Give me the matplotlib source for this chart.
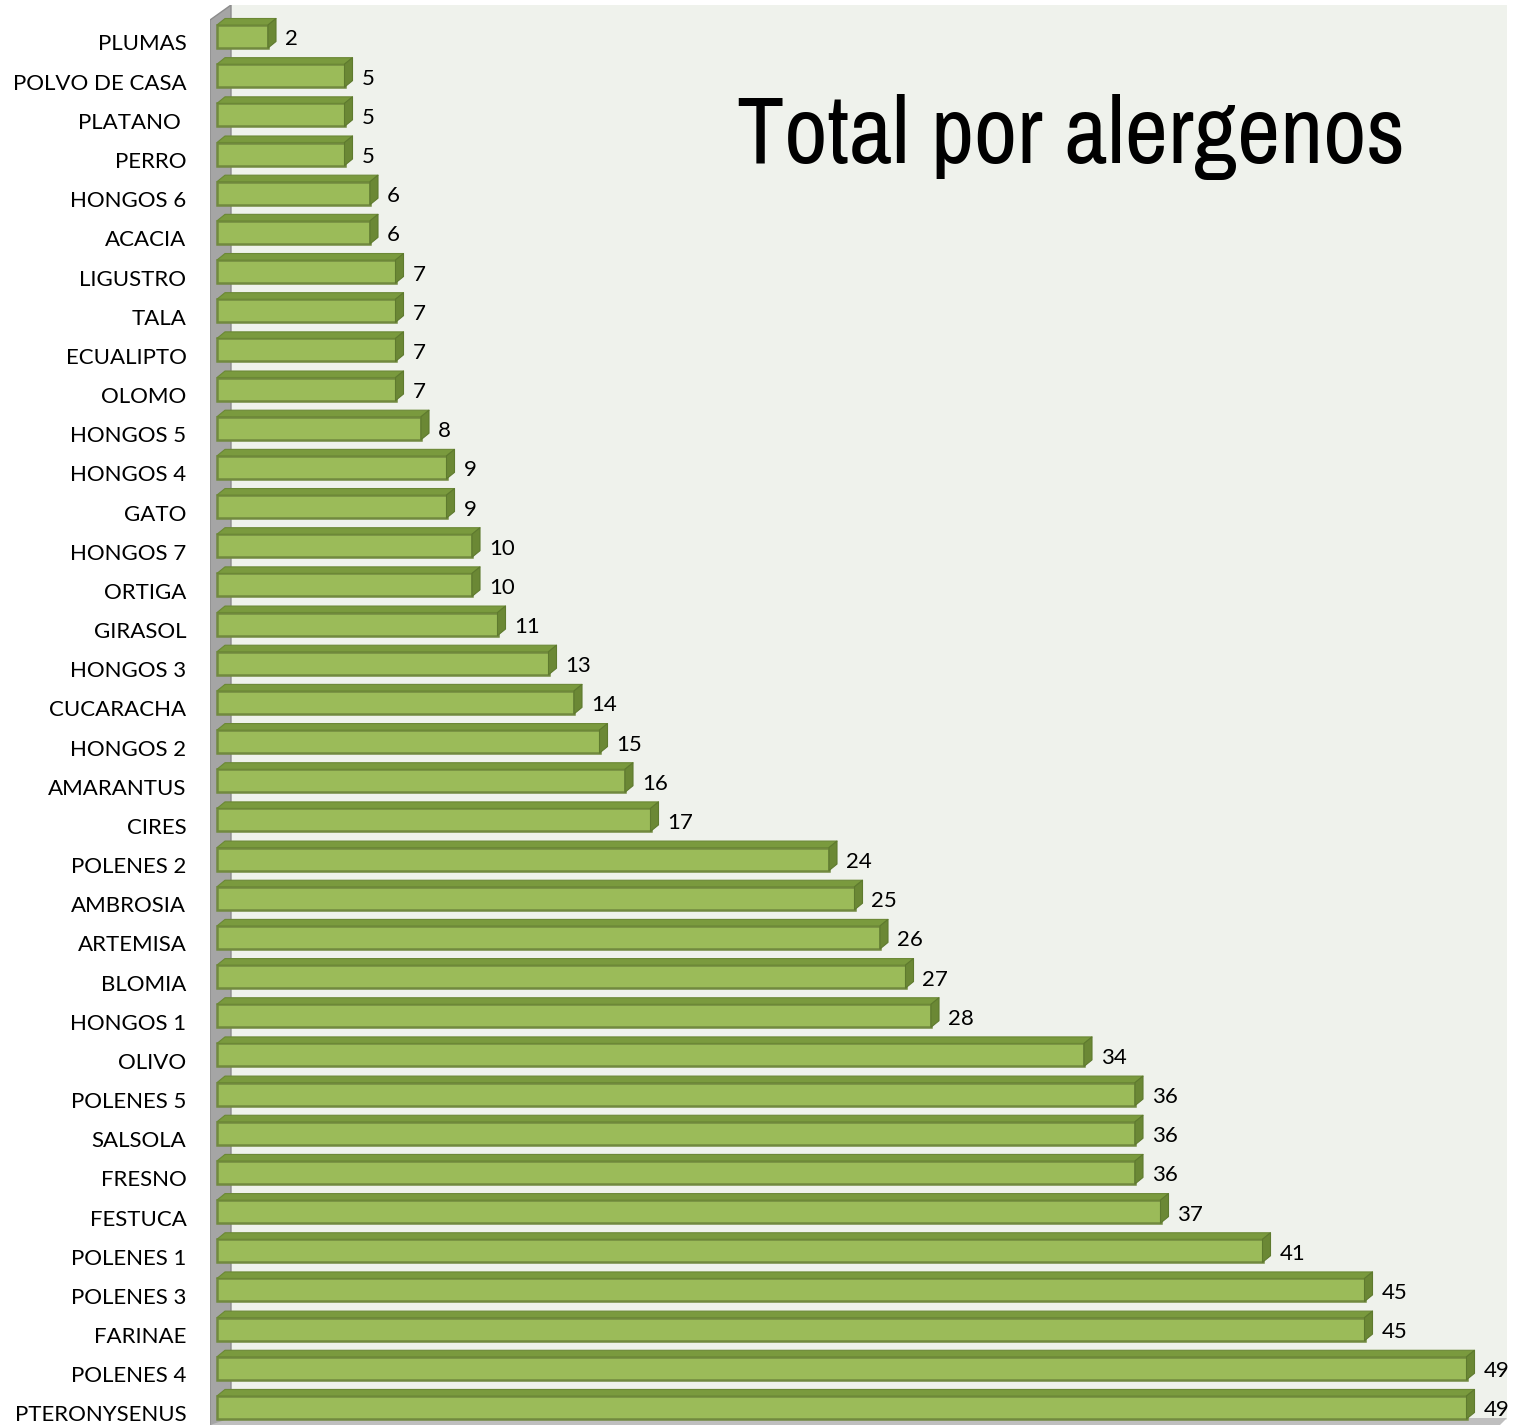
import matplotlib
matplotlib.use('Agg')
import matplotlib.pyplot as plt
import numpy as np
from matplotlib import font_manager
from matplotlib.patches import Polygon, Rectangle
from matplotlib.collections import PolyCollection
from matplotlib.transforms import ScaledTranslation

categories = ['PLUMAS', 'POLVO DE CASA', 'PLATANO ', 'PERRO', 'HONGOS 6', 'ACACIA',
              'LIGUSTRO', 'TALA', 'ECUALIPTO', 'OLOMO', 'HONGOS 5', 'HONGOS 4',
              'GATO', 'HONGOS 7', 'ORTIGA', 'GIRASOL', 'HONGOS 3', 'CUCARACHA',
              'HONGOS 2', 'AMARANTUS', 'CIRES', 'POLENES 2', 'AMBROSIA', 'ARTEMISA',
              'BLOMIA', 'HONGOS 1', 'OLIVO', 'POLENES 5', 'SALSOLA', 'FRESNO',
              'FESTUCA', 'POLENES 1', 'POLENES 3', 'FARINAE', 'POLENES 4', 'PTERONYSENUS']
values = [2, 5, 5, 5, 6, 6, 7, 7, 7, 7, 8, 9, 9, 10, 10, 11, 13, 14, 15, 16, 17,
          24, 25, 26, 27, 28, 34, 36, 36, 36, 37, 41, 45, 45, 49, 49]
title = 'Total por alergenos'

W, H = 1522, 1425
DPI = 100
PX_PER_UNIT = 25.5      # pixels per value unit
X0_PX = 217             # pixel where value 0 sits
ROW0_PX = 36.5          # centre of first bar front
PITCH = 39.17           # row pitch in px

front = '#9BBB59'
front_edge = '#71893F'
top_col = '#7A9A3E'
side_col = '#6B8835'
wall = '#EFF2EC'
gray = '#A5A5A5'

fig = plt.figure(figsize=(W / DPI, H / DPI), dpi=DPI)
fig.patch.set_facecolor('white')

ax_left, ax_right = 210, 1507
ax_top, ax_bot = 5, 1425
ax = fig.add_axes([ax_left / W, 1 - ax_bot / H, (ax_right - ax_left) / W, (ax_bot - ax_top) / H])
ax.set_facecolor('none')

def px_x(p):
    return (p - X0_PX) / PX_PER_UNIT

def px_y(p):
    return (p - ROW0_PX) / PITCH

ax.set_xlim(px_x(ax_left), px_x(ax_right))
ax.set_ylim(px_y(ax_bot), px_y(ax_top))

# back wall, side wall, floor
ax.add_patch(Rectangle((px_x(231), px_y(5)), px_x(1507) - px_x(231), px_y(1420) - px_y(5),
                       facecolor=wall, edgecolor='none', zorder=0))
ax.add_patch(Polygon([(px_x(210), px_y(20)), (px_x(231), px_y(5)), (px_x(231), px_y(1425)),
                      (px_x(210), px_y(1425))], closed=True, facecolor=gray,
                     edgecolor='#8C8C8C', lw=1, zorder=1))
ax.add_patch(Polygon([(px_x(231), px_y(1418)), (px_x(1507), px_y(1418)), (px_x(1500), px_y(1425)),
                      (px_x(210), px_y(1425))], closed=True, facecolor='#BFBFBF',
                     edgecolor='none', zorder=1))

rows = np.arange(len(categories))
h = 23 / PITCH
dx = 8 / PX_PER_UNIT
dy = 6.5 / PITCH

ax.barh(rows, values, height=h, color=front, edgecolor=front_edge, linewidth=1.8, zorder=3)

tops, sides = [], []
for r, v in zip(rows, values):
    yt = r - h / 2
    yb = r + h / 2
    tops.append([(0, yt), (v, yt), (v + dx, yt - dy), (dx, yt - dy)])
    sides.append([(v, yt), (v + dx, yt - dy), (v + dx, yb - dy), (v, yb)])
ax.add_collection(PolyCollection(tops, facecolors=top_col, edgecolors=side_col, linewidths=0.8, zorder=3))
ax.add_collection(PolyCollection(sides, facecolors=side_col, edgecolors='#5E7A2E', linewidths=0.8, zorder=3))

lab_font = ['Lato', 'DejaVu Sans']
for r, v in zip(rows, values):
    ax.text(v + dx + 9 / PX_PER_UNIT, r + 3 / PITCH, str(v), fontsize=16, family=lab_font,
            va='center', ha='left', zorder=4)

ax.set_yticks(rows)
ax.set_yticklabels(categories, fontsize=16, family=lab_font)
ax.tick_params(axis='y', length=0, pad=17)
ax.set_xticks([])
for lbl in ax.get_yticklabels():
    lbl.set_transform(lbl.get_transform() + ScaledTranslation(0, -6 / DPI, fig.dpi_scale_trans))
for s in ax.spines.values():
    s.set_visible(False)

# title font: a condensed face if one exists, else a plain sans fitted to width
names = sorted({f.name for f in font_manager.fontManager.ttflist})
narrow = [n for n in names if 'Condensed' in n or 'Narrow' in n]
title_family = narrow[0] if narrow else 'Roboto'
t = fig.text(737 / W, 1 - 163 / H, title, fontsize=65, family=[title_family, 'DejaVu Sans'],
             fontweight='bold', ha='left', va='baseline')
renderer = fig.canvas.get_renderer()
tw = t.get_window_extent(renderer).width
t.set_fontsize(65 * 668 / tw)

fig.savefig('out.png', dpi=DPI)
